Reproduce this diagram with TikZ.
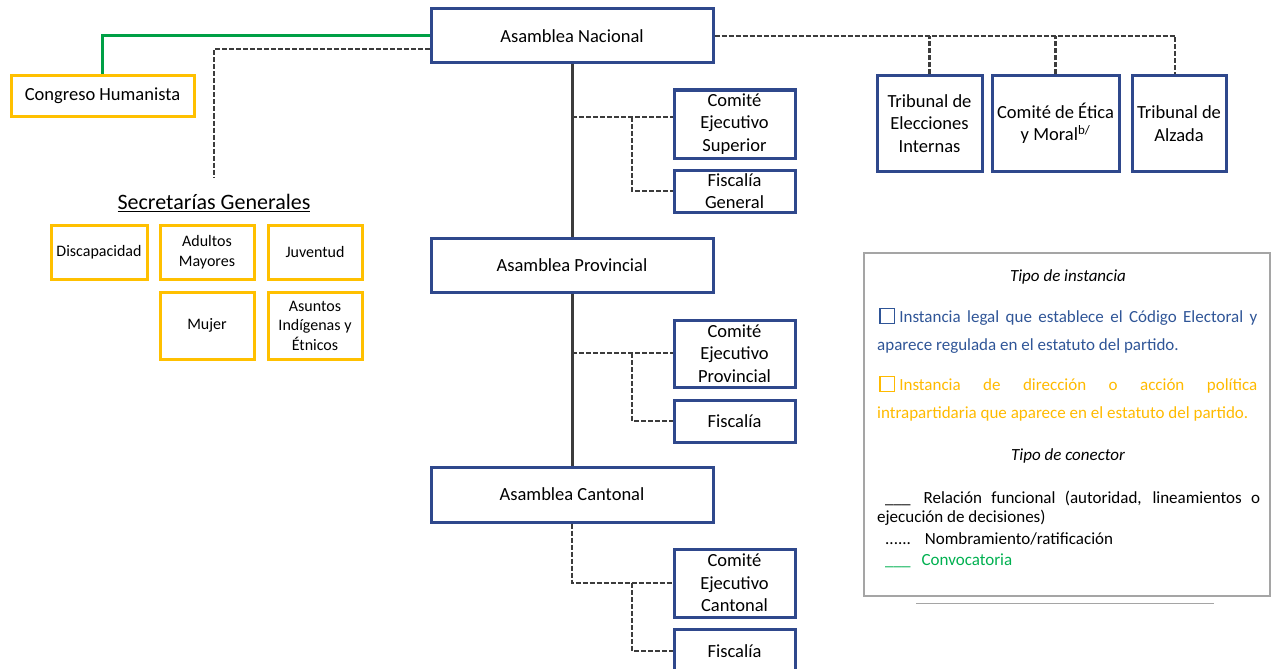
\documentclass[tikz,border=0pt]{standalone}
\usepackage{fontspec}
\setmainfont{Carlito}
\definecolor{boxblue}{RGB}{47,72,140}
\definecolor{ygold}{RGB}{255,192,0}
\definecolor{conn}{RGB}{60,60,60}
\definecolor{convgreen}{RGB}{0,160,70}
\definecolor{leggray}{RGB}{165,165,165}
\definecolor{legblue}{RGB}{47,85,151}
\definecolor{legorange}{RGB}{255,186,0}
\definecolor{leggreen}{RGB}{0,176,80}
\newcommand{\sqmark}{{\setlength{\fboxsep}{0pt}\setlength{\fboxrule}{1.3pt}\fbox{\rule{0pt}{13.5pt}\rule{13.5pt}{0pt}}}\hspace{4pt}}
\tikzset{
  bbox/.style={draw=boxblue, line width=3pt, fill=white, inner sep=0pt, align=center,
    font=\fontsize{18.5}{22.5}\selectfont, text=black},
  ybox/.style={draw=ygold, line width=3pt, fill=white, inner sep=0pt, align=center,
    font=\fontsize{16}{19.5}\selectfont, text=black},
  dotline/.style={draw=conn, line width=2.6pt, dash pattern=on 5pt off 2pt},
  solidline/.style={draw=conn, line width=3pt},
  greenline/.style={draw=convgreen, line width=3pt},
  legbox/.style={draw=leggray, line width=2.6pt, inner sep=0pt},
  legtext/.style={anchor=base west, inner sep=0pt, font=\fontsize{17}{20.7}\selectfont},
  legtitle/.style={anchor=base, inner sep=0pt, font=\fontsize{17}{20.7}\selectfont\itshape},
}
\begin{document}
\begin{tikzpicture}[x=1pt,y=-1pt]
\useasboundingbox (0,0) rectangle (1272,669);

% main column
\node[bbox, minimum width=282, minimum height=54] (an) at (572,36) {Asamblea Nacional};
\node[bbox, minimum width=282, minimum height=54] (ap) at (572,265) {Asamblea Provincial};
\node[bbox, minimum width=282, minimum height=55] (ac) at (572,494.5) {Asamblea Cantonal};

\node[bbox, minimum width=121, minimum height=68] (ces) at (734.5,124) {Comité\\Ejecutivo\\Superior};
\node[bbox, minimum width=121, minimum height=42] (fg) at (734.5,191) {Fiscalía\\General};
\node[bbox, minimum width=121, minimum height=67] (cep) at (734.5,353.5) {Comité\\Ejecutivo\\Provincial};
\node[bbox, minimum width=121, minimum height=42] (fp) at (734.5,421) {Fiscalía};
\node[bbox, minimum width=121, minimum height=68] (cec) at (734.5,583) {Comité\\Ejecutivo\\Cantonal};
\node[bbox, minimum width=121, minimum height=44] (fc) at (734.5,651) {Fiscalía};

% tribunals
\node[bbox, minimum width=105, minimum height=95] (tei) at (929.5,123.5) {Tribunal de\\Elecciones\\Internas};
\node[bbox, minimum width=127, minimum height=95] (cem) at (1055.5,123.5) {Comité de Ética\\y Moral\textsuperscript{b/}};
\node[bbox, minimum width=94, minimum height=95] (ta) at (1179,123.5) {Tribunal de\\Alzada};

% left side
\node[ybox, minimum width=183, minimum height=40, font=\fontsize{18.5}{22.5}\selectfont] (ch) at (102.5,96) {Congreso Humanista};
\node[inner sep=0pt, font=\fontsize{22}{26}\selectfont] (sg) at (214,203) {\underline{Secretarías Generales}};
\coordinate (sgend) at (214,178);
\node[ybox, minimum width=96, minimum height=54] (disc) at (99,252) {Discapacidad};
\node[ybox, minimum width=94, minimum height=54] (adul) at (207,252) {Adultos\\Mayores};
\node[ybox, minimum width=94, minimum height=54] (juv) at (315,252) {Juventud};
\node[ybox, minimum width=94, minimum height=67] (muj) at (207,325.5) {Mujer};
\node[ybox, minimum width=94, minimum height=67] (asun) at (315,325.5) {Asuntos\\Indígenas y\\Étnicos};

% connectors
\draw[greenline] (an.west) -| (ch.north);
\draw[dotline] ([yshift=-13pt]an.west) -| (sgend);
\draw[solidline] (an.south) -- (ap.north);
\draw[solidline] (ap.south) -- (ac.north);

\coordinate (b1) at (632,117);
\draw[dotline] (an.south |- b1) -- ([yshift=7pt]ces.west);
\draw[dotline] (b1) |- (fg.west);

\coordinate (b2) at (632,353);
\draw[dotline] (ap.south |- b2) -- (cep.west |- b2);
\draw[dotline] (b2) |- (fp.west);

\coordinate (b3) at (632,583);
\draw[dotline] (ac.south) |- (cec.west);
\draw[dotline] (b3) |- (fc.west);

\draw[dotline] (an.east) -| ([xshift=-4pt]ta.north);
\draw[dotline] (tei.north) -- (tei.north |- an.east);
\draw[dotline] (cem.north) -- (cem.north |- an.east);

% legend
\node[legbox, minimum width=406, minimum height=343] (leg) at (1067,424.5) {};
\coordinate (ul1) at (916,603);
\coordinate (ul2) at (1214,603);
\draw[leggray, line width=1pt] (ul1) -- (ul2);

\node[legtitle] (t1) at (1068,281.5) {Tipo de instancia};
\node[legtext, text=legblue] (l1) at (879,322.7) {\sqmark\makebox[358pt][s]{Instancia legal que establece el Código Electoral y}};
\node[legtext, text=legblue] (l2) at (877,350) {aparece regulada en el estatuto del partido.};
\node[legtext, text=legorange] (l3) at (879,390.5) {\sqmark\makebox[358pt][s]{Instancia de dirección o acción política}};
\node[legtext, text=legorange] (l4) at (877,418) {intrapartidaria que aparece en el estatuto del partido.};
\node[legtitle] (t2) at (1068,460) {Tipo de conector};
\node[legtext] (l5) at (885,503) {\makebox[375pt][s]{\_\_\_\hspace{13pt}Relación funcional (autoridad, lineamientos o}};
\node[legtext] (l6) at (877,522.7) {ejecución de decisiones)};
\node[legtext] (l7) at (885,544) {......\hspace{14pt}Nombramiento/ratificación};
\node[legtext, text=leggreen] (l8) at (885,565) {\_\_\_\hspace{11pt}Convocatoria};
\end{tikzpicture}
\end{document}
